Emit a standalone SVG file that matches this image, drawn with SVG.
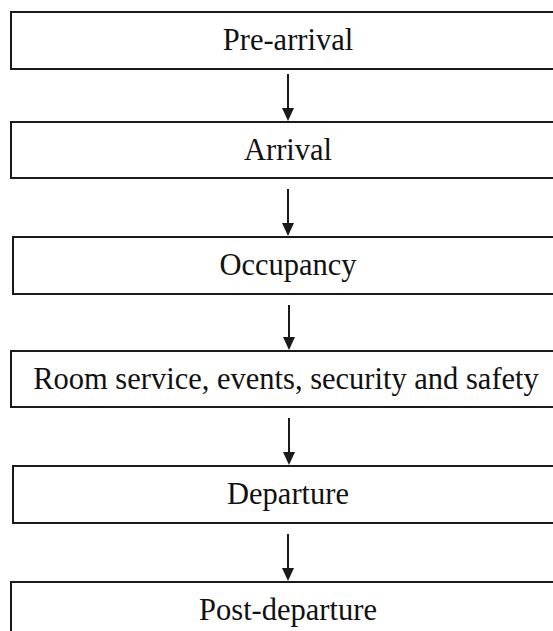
<svg xmlns="http://www.w3.org/2000/svg" width="553" height="631" viewBox="0 0 553 631">
<defs>
<style>
.box{fill:#fff;stroke:#1a1a1a;stroke-width:2}
.lbl{font-family:"Liberation Serif","Times New Roman",serif;font-size:30.5px;fill:#111;text-anchor:middle}
.conn{stroke:#1a1a1a;stroke-width:2;fill:none}
.head{fill:#1a1a1a}
</style>
</defs>
<rect width="553" height="631" fill="#fff"/>
<g id="n1"><rect class="box" x="11" y="12" width="560" height="57"/><text class="lbl" x="288" y="50">Pre-arrival</text></g>
<g id="n2"><rect class="box" x="11" y="122" width="560" height="56"/><text class="lbl" x="288" y="160">Arrival</text></g>
<g id="n3"><rect class="box" x="13" y="237" width="560" height="57"/><text class="lbl" x="288" y="275">Occupancy</text></g>
<g id="n4"><rect class="box" x="11" y="351" width="560" height="56"/><text class="lbl" x="286" y="389">Room service, events, security and safety</text></g>
<g id="n5"><rect class="box" x="13" y="466" width="560" height="57"/><text class="lbl" x="288" y="504">Departure</text></g>
<g id="n6"><rect class="box" x="11" y="582" width="560" height="70"/><text class="lbl" x="288" y="620">Post-departure</text></g>
<g id="connectors">
<line class="conn" x1="288" y1="74" x2="288" y2="109"/><path class="head" d="M282,108 L294,108 L288,121 Z"/>
<line class="conn" x1="288" y1="189" x2="288" y2="224"/><path class="head" d="M282,223 L294,223 L288,236 Z"/>
<line class="conn" x1="289" y1="305" x2="289" y2="338"/><path class="head" d="M283,337 L295,337 L289,350 Z"/>
<line class="conn" x1="289" y1="418" x2="289" y2="453"/><path class="head" d="M283,452 L295,452 L289,465 Z"/>
<line class="conn" x1="288" y1="534" x2="288" y2="569"/><path class="head" d="M282,568 L294,568 L288,581 Z"/>
</g>
</svg>
